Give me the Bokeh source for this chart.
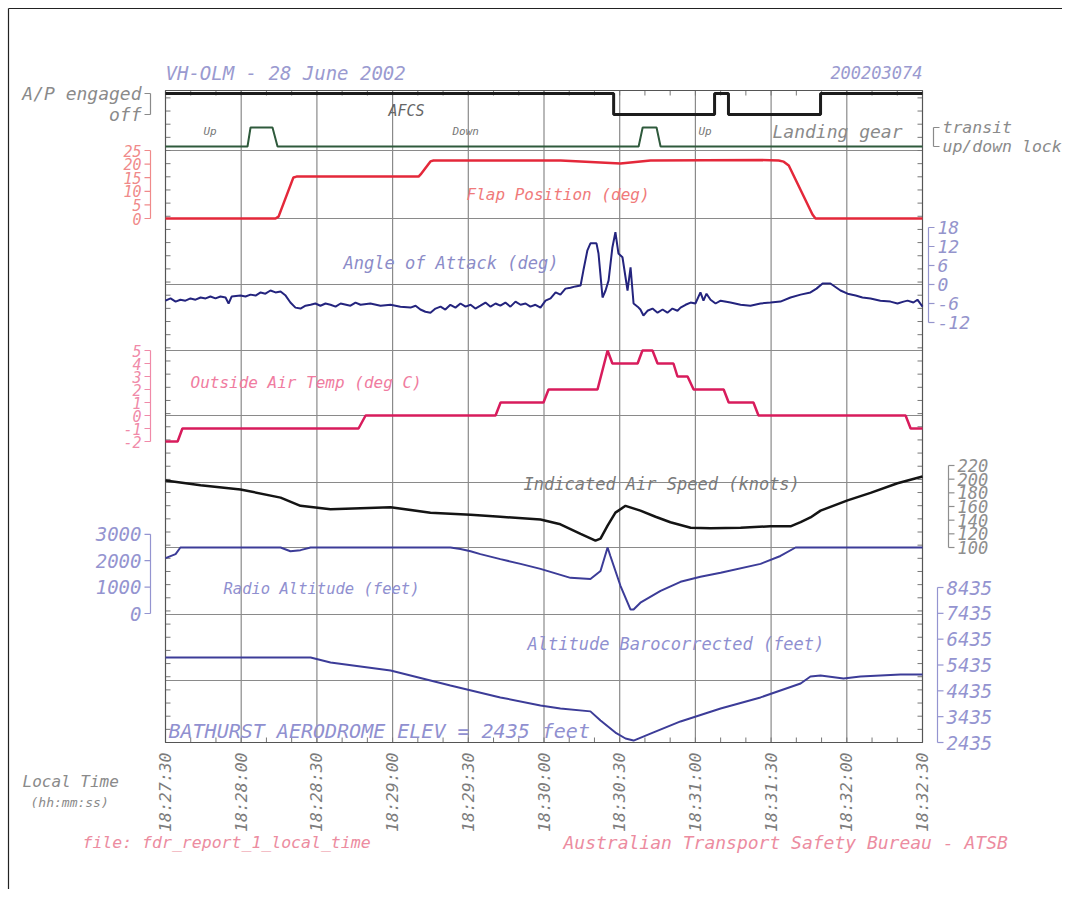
import numpy as np
from bokeh.plotting import figure
from bokeh.models import Range1d
from bokeh.core.properties import value
from bokeh.embed import file_html
from bokeh.resources import INLINE

# ---------------- data (times are seconds after 18:27:30) ----------------
time_labels = ["18:27:30", "18:28:00", "18:28:30", "18:29:00", "18:29:30", "18:30:00",
               "18:30:30", "18:31:00", "18:31:30", "18:32:00", "18:32:30"]

ap_t = [0, 177.6, 217.6, 223.1, 259.6, 300]
ap_v = [1, 0, 1, 0, 1, 1]
ap_ticks = [1, 0]
ap_tick_labels = ["A/P engaged", "off"]

gear_t = [0, 32.5, 33.7, 42.4, 44.4, 187.5, 189.1, 194.6, 196.2, 300]
gear_v = [0, 0, 1, 1, 0, 0, 1, 1, 0, 0]
gear_ticks = [1, 0]
gear_tick_labels = ["transit", "up/down lock"]

flap_t = [0, 43.6, 44.8, 50.7, 51.9, 100.3, 101.1, 105.0, 106.2, 156.6, 172.4, 180.3,
          192.2, 235.8, 243.0, 245.0, 247.0, 256.4, 257.6, 300]
flap_v = [0, 0, 0.7, 15.1, 15.4, 15.4, 16.2, 21.0, 21.3, 21.3, 20.6, 20.2,
          21.3, 21.5, 21.3, 20.9, 19.5, 1.5, 0, 0]
flap_ticks = [0, 5, 10, 15, 20, 25]

aoa_t = [0, 2.0, 4.0, 5.9, 7.9, 9.9, 11.9, 13.9, 15.9, 17.8,
         19.8, 21.8, 23.8, 25.0, 26.2, 29.7, 31.7, 33.7, 35.7, 37.7,
         39.6, 41.6, 43.6, 45.6, 47.6, 49.5, 51.5, 53.5, 55.5, 57.5,
         59.4, 61.4, 63.4, 65.4, 67.4, 69.4, 73.3, 75.3, 77.3, 81.2,
         85.2, 89.2, 93.1, 97.1, 99.1, 101.0, 103.0, 105.0, 107.0, 109.0,
         110.9, 112.9, 114.9, 116.9, 118.9, 120.9, 122.8, 124.8, 126.8, 128.8,
         130.8, 132.7, 134.7, 136.7, 138.7, 140.7, 142.7, 144.6, 146.6, 148.6,
         150.6, 152.6, 154.6, 156.5, 158.5, 160.5, 162.5, 164.5, 165.6, 167.2,
         168.4, 170.8, 171.6, 173.2, 174.4, 175.6, 177.1, 178.3, 179.5, 181.1,
         183.1, 184.3, 185.5, 187.1, 188.2, 189.4, 191.0, 193.0, 195.0, 197.0,
         198.9, 200.9, 202.9, 204.1, 206.1, 208.1, 210.0, 212.0, 213.2, 214.4,
         216.0, 218.0, 220.0, 223.9, 227.9, 231.8, 235.8, 239.8, 243.7, 247.7,
         251.7, 255.6, 258.0, 260.4, 263.5, 267.5, 270.3, 273.5, 276.2, 279.4,
         283.3, 287.3, 290.1, 292.5, 294.1, 296.4, 298.0, 300.0]
aoa_v = [-5.1, -4.4, -5.4, -4.8, -5.1, -4.4, -4.8, -4.1, -4.4, -3.8,
         -4.4, -3.8, -4.1, -6.0, -3.8, -3.5, -3.8, -3.2, -3.5, -2.5,
         -2.9, -1.9, -2.5, -2.2, -3.5, -5.7, -7.3, -7.6, -6.7, -6.4,
         -6.0, -6.7, -6.0, -6.4, -7.0, -6.0, -6.7, -5.7, -6.4, -6.0,
         -6.7, -6.4, -7.0, -7.3, -6.7, -7.9, -8.6, -8.9, -7.6, -7.0,
         -7.9, -6.4, -7.3, -6.0, -7.0, -6.4, -7.6, -6.7, -5.7, -7.0,
         -6.0, -6.7, -5.7, -7.0, -5.4, -6.4, -6.0, -7.0, -6.4, -7.3,
         -5.1, -4.4, -2.5, -3.2, -1.3, -1.0, -0.6, -0.3, 4.4, 10.8,
         13.0, 13.0, 9.8, -4.1, -1.9, 1.3, 11.7, 16.5, 9.8, 8.6,
         -1.9, 5.4, -6.0, -7.0, -7.9, -9.8, -8.3, -7.6, -8.9, -7.9,
         -8.9, -7.6, -8.3, -7.3, -6.4, -5.7, -6.0, -2.5, -5.1, -2.9,
         -4.8, -6.0, -5.1, -5.7, -6.4, -6.7, -6.0, -5.7, -5.4, -4.1,
         -3.2, -2.5, -1.3, 0.3, 0.3, -1.9, -2.9, -3.5, -4.1, -4.4,
         -5.1, -5.4, -6.0, -5.4, -5.1, -5.7, -4.8, -7.0]
aoa_ticks = [-12, -6, 0, 6, 12, 18]

oat_t = [0, 4.8, 6.7, 76.5, 79.3, 130.8, 132.8, 149.8, 151.8, 171.2, 175.2, 177.1, 187.1,
         189.0, 193.0, 195.0, 201.3, 202.9, 206.9, 209.3, 221.2, 223.2, 233.0, 235.0,
         293.3, 295.3, 300]
oat_v = [-2, -2, -1, -1, 0, 0, 1, 1, 2, 2, 5, 4, 4,
         5, 5, 4, 4, 3, 3, 2, 2, 1, 1, 0,
         0, -1, -1]
oat_ticks = [-2, -1, 0, 1, 2, 3, 4, 5]

ias_t = [0, 13.9, 29.7, 45.6, 53.5, 65.4, 89.2, 105.0, 120.9, 132.7,
         148.6, 156.5, 164.5, 170.4, 172.4, 175.2, 178.3, 182.3, 188.2, 194.2,
         200.1, 208.1, 216.0, 227.9, 239.8, 247.7, 251.7, 255.6, 259.6, 270.3,
         279.4, 290.1, 300]
ias_v = [198, 191, 185, 173, 161, 156, 159, 151, 148, 145,
         141, 134, 120, 110, 113, 132, 151, 161, 154, 145,
         137, 129, 128, 129, 131, 131, 137, 144, 154, 169,
         180, 194, 204]
ias_ticks = [100, 120, 140, 160, 180, 200, 220]

ra_t = [0, 4.0, 5.9, 45.6, 49.5, 53.5, 57.5, 112.9, 116.9, 120.9, 124.8, 132.7, 140.7,
        148.6, 160.5, 168.4, 172.4, 175.2, 176.3, 180.3, 184.3, 185.5, 188.2, 196.2,
        204.1, 212.0, 220.0, 235.8, 243.7, 249.7, 300]
ra_v = [2100, 2250, 2500, 2500, 2360, 2400, 2500, 2500, 2440, 2360, 2250, 2060, 1880,
        1690, 1350, 1310, 1610, 2500, 2180, 1050, 150, 150, 410, 860,
        1200, 1390, 1540, 1880, 2180, 2500, 2500]
ra_ticks = [0, 1000, 2000, 3000]

baro_t = [0, 57.5, 65.4, 89.2, 112.9, 132.7, 148.6, 156.5, 168.4, 172.4, 178.3, 182.3,
          185.5, 192.2, 204.1, 220.0, 235.8, 251.7, 255.6, 259.6, 268.7, 275.4, 291.3, 300]
baro_v = [5725, 5725, 5530, 5220, 4640, 4180, 3870, 3750, 3640, 3290, 2820, 2590,
          2510, 2780, 3250, 3750, 4180, 4720, 4990, 5030, 4910, 4990, 5070, 5070]
baro_ticks = [2435, 3435, 4435, 5435, 6435, 7435, 8435]


def hms(s):
    h, m, sec = (int(v) for v in s.split(":"))
    return h * 3600 + m * 60 + sec


tick_t = [hms(s) - hms(time_labels[0]) for s in time_labels]
T_END = tick_t[-1]

# ---------------- layout (screen pixels) ----------------
W, H = 1062, 889
OX, OY = 0, 0
L, R, T, B = 165, 922, 90, 742
GRID_Y = [150, 218, 284, 350, 415, 482, 547, 614, 680]

k = (R - L) / T_END
x_range = Range1d(-(L - OX) / k, T_END + (OX + W - R) / k)


def band(v0, y0, v1, y1):
    m = (v1 - v0) / (y1 - y0)
    return Range1d(v0 + (OY + H - y0) * m, v0 + (OY - y0) * m)


p = figure(width=W, height=H, x_range=x_range, y_range=Range1d(OY + H, OY),
           output_backend="svg", toolbar_location=None, x_axis_type=None,
           y_axis_type=None, min_border=0, title=None)
p.outline_line_color = None
p.background_fill_color = "white"
p.border_fill_color = "white"
p.extra_x_ranges = {"px": Range1d(OX, OX + W)}
p.extra_y_ranges = {
    "ap": band(0, 114, 1, 93),
    "gear": band(0, 146, 1, 127),
    "flap": band(0, 218, 25, 150),
    "aoa": band(0, 284, 18, 227),
    "oat": band(0, 415, 5, 350),
    "ias": band(100, 547, 220, 465),
    "ra": band(0, 613, 2500, 547),
    "baro": band(2435, 742, 8435, 587),
}

FONT = value("DejaVu Sans Mono")


def txt(xs, ys, labels, color, size, align="left", baseline="middle", angle=0.0,
        xr="px", yr="default"):
    p.text(x=xs, y=ys, text=labels, x_range_name=xr, y_range_name=yr,
           text_font=FONT, text_font_style="italic", text_font_size=f"{size}px",
           text_color=color, text_align=align, text_baseline=baseline, angle=angle)


# outer page border (left and top)
p.segment(x0=[8, 8], y0=[8, 8], x1=[8, W], y1=[H, 8],
          x_range_name="px", line_color="#222222", line_width=1.2)

# grid
p.segment(x0=tick_t[1:-1], x1=tick_t[1:-1], y0=[T] * (len(tick_t) - 2),
          y1=[B] * (len(tick_t) - 2), line_color="#8a8a8a", line_width=1.2)
p.segment(x0=[L] * len(GRID_Y), x1=[R] * len(GRID_Y), y0=GRID_Y, y1=GRID_Y,
          x_range_name="px", line_color="#8a8a8a", line_width=1.2)
# small inner ticks on frame edges
edge_y = np.arange(B, T, -(B - GRID_Y[0]) / 45.0)
p.segment(x0=[L] * len(edge_y), x1=[L + 5] * len(edge_y), y0=edge_y, y1=edge_y,
          x_range_name="px", line_color="#777777")
p.segment(x0=[R] * len(edge_y), x1=[R - 5] * len(edge_y), y0=edge_y, y1=edge_y,
          x_range_name="px", line_color="#777777")
minor_t = np.arange(0, T_END + 1, 10)
p.segment(x0=minor_t, x1=minor_t, y0=[B] * len(minor_t), y1=[B - 5] * len(minor_t),
          line_color="#777777")
p.segment(x0=minor_t, x1=minor_t, y0=[T] * len(minor_t), y1=[T + 5] * len(minor_t),
          line_color="#777777")
p.quad(left=[L], right=[R], top=[T], bottom=[B], x_range_name="px",
       fill_color=None, line_color="#555555", line_width=1.2)

# ---------------- traces ----------------
p.step(x=ap_t, y=ap_v, mode="after", y_range_name="ap", line_color="#1c1c1c", line_width=3)
p.line(x=gear_t, y=gear_v, y_range_name="gear", line_color="#2f5a3c", line_width=2)
p.line(x=flap_t, y=flap_v, y_range_name="flap", line_color="#e4283a", line_width=2.5)
p.line(x=aoa_t, y=aoa_v, y_range_name="aoa", line_color="#24247e", line_width=2)
p.line(x=oat_t, y=oat_v, y_range_name="oat", line_color="#d81c5c", line_width=2.5)
p.line(x=ias_t, y=ias_v, y_range_name="ias", line_color="#141414", line_width=2.5)
p.line(x=ra_t, y=ra_v, y_range_name="ra", line_color="#3c3c98", line_width=2)
p.line(x=baro_t, y=baro_v, y_range_name="baro", line_color="#3c3c98", line_width=2)


# ---------------- value scales (bracket axes) ----------------
def left_scale(ticks, labels, rname, color, size, xline=150):
    n = len(ticks)
    p.segment(x0=[xline], x1=[xline], y0=[min(ticks)], y1=[max(ticks)],
              x_range_name="px", y_range_name=rname, line_color=color, line_width=1.2)
    p.segment(x0=[xline] * n, x1=[xline - 6] * n, y0=ticks, y1=ticks,
              x_range_name="px", y_range_name=rname, line_color=color, line_width=1.2)
    txt([xline - 9] * n, ticks, labels, color, size, align="right", yr=rname)


def right_scale(ticks, labels, rname, color, size, xline):
    n = len(ticks)
    p.segment(x0=[xline], x1=[xline], y0=[min(ticks)], y1=[max(ticks)],
              x_range_name="px", y_range_name=rname, line_color=color, line_width=1.2)
    p.segment(x0=[xline] * n, x1=[xline + 6] * n, y0=ticks, y1=ticks,
              x_range_name="px", y_range_name=rname, line_color=color, line_width=1.2)
    txt([xline + 9] * n, ticks, labels, color, size, align="left", yr=rname)


left_scale(ap_ticks, ap_tick_labels, "ap", "#8a8a8a", 18)
left_scale(flap_ticks, [str(v) for v in flap_ticks], "flap", "#f08a8a", 15)
left_scale(oat_ticks, [str(v) for v in oat_ticks], "oat", "#f08aa8", 15)
left_scale(ra_ticks, [str(v) for v in ra_ticks], "ra", "#9494d0", 19)
right_scale(gear_ticks, gear_tick_labels, "gear", "#8a8a8a", 16.5, 933)
right_scale(aoa_ticks, [str(v) for v in aoa_ticks], "aoa", "#9494cc", 18, 928)
right_scale(ias_ticks, [str(v) for v in ias_ticks], "ias", "#8e8e8e", 17, 948)
right_scale(baro_ticks, [str(v) for v in baro_ticks], "baro", "#9494d0", 19, 937)

# time axis labels
txt(tick_t, [B + 10] * len(tick_t), time_labels, "#7c7c7c", 16.5, align="right",
    angle=np.pi / 2, xr="default")

# ---------------- annotations text ----------------
txt([L], [72], ["VH-OLM - 28 June 2002"], "#9a9ad0", 19)
txt([R], [72], ["200203074"], "#9a9ad0", 17, align="right")
txt([388], [110], ["AFCS"], "#666666", 15)
txt([203, 452, 698], [131, 131, 131], ["Up", "Down", "Up"], "#777777", 11)
txt([772], [131], ["Landing gear"], "#8a8a8a", 18)
txt([466], [194], ["Flap Position (deg)"], "#f07a7a", 16)
txt([343], [262], ["Angle of Attack (deg)"], "#8c8cc8", 17)
txt([190], [382], ["Outside Air Temp (deg C)"], "#f07ca0", 16)
txt([523], [483], ["Indicated Air Speed (knots)"], "#7a7a7a", 17)
txt([223], [588], ["Radio Altitude (feet)"], "#9090d0", 15.5)
txt([527], [643], ["Altitude Barocorrected (feet)"], "#9090d0", 17)
txt([168], [730], ["BATHURST AERODROME ELEV = 2435 feet"], "#9090d0", 20)
txt([22], [781], ["Local Time"], "#8a8a8a", 16)
txt([30], [802], ["(hh:mm:ss)"], "#8a8a8a", 13)
txt([82], [842], ["file: fdr_report_1_local_time"], "#ec8ca0", 16.5)
txt([563], [842], ["Australian Transport Safety Bureau - ATSB"], "#ec8ca0", 18)

open("out.html", "w").write(file_html(p, INLINE))
